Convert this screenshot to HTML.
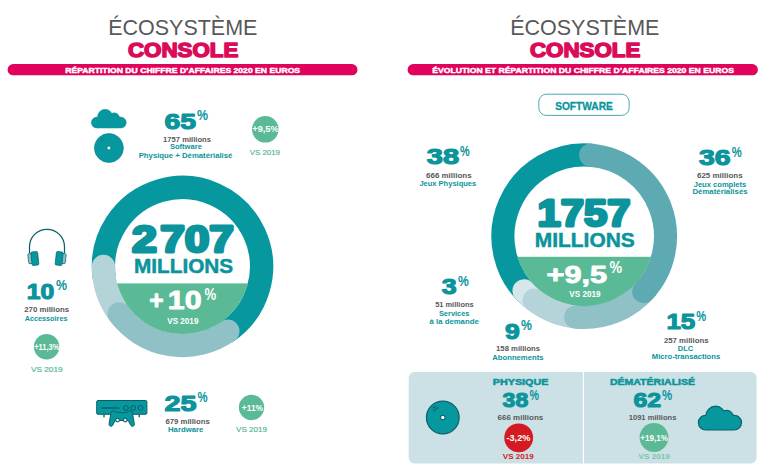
<!DOCTYPE html>
<html lang="fr"><head><meta charset="utf-8"><title>Écosystème console</title>
<style>
html,body{margin:0;padding:0;background:#fff}
body{width:768px;height:475px;overflow:hidden}
svg{display:block;font-family:"Liberation Sans",sans-serif}
</style></head><body>
<svg width="768" height="475" viewBox="0 0 768 475">
<rect width="768" height="475" fill="#fff"/>
<text x="108.2" y="34.7" font-size="22.9" font-weight="normal" fill="#58585a" textLength="149.2" lengthAdjust="spacingAndGlyphs">ÉCOSYSTÈME</text>
<text x="127.9" y="56.8" font-size="20.2" font-weight="bold" fill="#db0b5a" textLength="110.4" lengthAdjust="spacingAndGlyphs" stroke="#db0b5a" stroke-width="1.5" stroke-linejoin="round">CONSOLE</text>
<rect x="7.6" y="64.1" width="349.9" height="11.2" rx="5.6" fill="#e0035b"/>
<text x="65.2" y="73.0" font-size="8.0" font-weight="bold" fill="#fff" textLength="234.9" lengthAdjust="spacingAndGlyphs" stroke="#fff" stroke-width="0.45" stroke-linejoin="round">RÉPARTITION DU CHIFFRE D’AFFAIRES 2020 EN EUROS</text>
<g transform="translate(91.35 109.35) scale(0.7878)"><g fill="#07979f" stroke="#07979f" stroke-width="0.635"><rect x="0" y="9.8" width="44.3" height="13.9" rx="6.95"/><circle cx="17.5" cy="9.6" r="9.6"/><circle cx="29.2" cy="10.9" r="6.5"/></g></g>
<circle cx="108.9" cy="148" r="14.50" fill="#07979f" stroke="#0e8189" stroke-width="0.6"/>
<circle cx="108.9" cy="148" r="2.00" fill="#f4fbfc" stroke="#0e8189" stroke-width="0.89"/>
<path d="M100.23 139.59L102.68 138.45M100.76 142.23L104.79 139.15" fill="none" stroke="#0e8189" stroke-width="0.92" stroke-linecap="round"/>
<text x="164.4" y="129.3" font-size="21.86" font-weight="bold" fill="#0b949c" textLength="31.5" lengthAdjust="spacingAndGlyphs" stroke="#0b949c" stroke-width="1.15" stroke-linejoin="round">65</text>
<text x="197.0" y="120.0" font-size="14.6" font-weight="bold" fill="#0b949c" textLength="11.0" lengthAdjust="spacingAndGlyphs">%</text>
<text x="163.1" y="141.7" font-size="7.3" font-weight="bold" fill="#58585a" textLength="47.9" lengthAdjust="spacingAndGlyphs">1757 millions</text>
<text x="169.9" y="149.4" font-size="7.3" font-weight="bold" fill="#0b949c" textLength="32.0" lengthAdjust="spacingAndGlyphs">Software</text>
<text x="138.7" y="157.6" font-size="7.3" font-weight="bold" fill="#0b949c" textLength="93.7" lengthAdjust="spacingAndGlyphs">Physique + Dématérialisé</text>
<circle cx="265.3" cy="129.3" r="13.3" fill="#5bba96"/>
<text x="252.3" y="132.3" font-size="8.4" font-weight="bold" fill="#fff" textLength="26.3" lengthAdjust="spacingAndGlyphs">+9,5%</text>
<text x="249.7" y="154.7" font-size="7.3" font-weight="normal" fill="#5bba96" textLength="30.3" lengthAdjust="spacingAndGlyphs" stroke="#5bba96" stroke-width="0.2" stroke-linejoin="round">VS 2019</text>
<path d="M104.22 277.50A79.05 79.05 0 1 1 225.55 332.80" fill="none" stroke="#07979f" stroke-width="23.3" stroke-linecap="butt"/>
<path d="M121.07 316.25A79.05 79.05 0 0 1 103.45 266.50" fill="none" stroke="#b4d4d9" stroke-width="23.3" stroke-linecap="round"/>
<path d="M227.84 331.25A79.05 79.05 0 0 1 119.20 313.85" fill="none" stroke="#8fc1c7" stroke-width="23.3" stroke-linecap="round"/>
<clipPath id="c1"><circle cx="182.5" cy="266.5" r="67.6"/></clipPath><rect x="100" y="283.4" width="170" height="60" fill="#5bba96" clip-path="url(#c1)"/>
<text x="132.0" y="252.1" font-size="36.2" font-weight="bold" fill="#0b949c" textLength="24.9" lengthAdjust="spacingAndGlyphs" stroke="#0b949c" stroke-width="3" stroke-linejoin="round">2</text>
<text x="160.2" y="252.1" font-size="36.2" font-weight="bold" fill="#0b949c" textLength="73.8" lengthAdjust="spacingAndGlyphs" stroke="#0b949c" stroke-width="3" stroke-linejoin="round">707</text>
<text x="134.0" y="272.8" font-size="20.3" font-weight="bold" fill="#0b949c" textLength="99.2" lengthAdjust="spacingAndGlyphs" stroke="#0b949c" stroke-width="0.5" stroke-linejoin="round">MILLIONS</text>
<text x="149.2" y="309.2" font-size="26.3" font-weight="bold" fill="#fff" textLength="14.4" lengthAdjust="spacingAndGlyphs" stroke="#fff" stroke-width="0.9" stroke-linejoin="round">+</text>
<text x="167.8" y="309.2" font-size="26.3" font-weight="bold" fill="#fff" textLength="33.8" lengthAdjust="spacingAndGlyphs" stroke="#fff" stroke-width="0.9" stroke-linejoin="round">10</text>
<text x="204.4" y="299.5" font-size="16.3" font-weight="bold" fill="#fff" textLength="11.7" lengthAdjust="spacingAndGlyphs">%</text>
<text x="167.3" y="323.8" font-size="8.2" font-weight="bold" fill="#fff" textLength="31.1" lengthAdjust="spacingAndGlyphs">VS 2019</text>
<path d="M29.5 253V246.8A17.5 17.5 0 0 1 64.5 246.8V253" fill="none" stroke="#0b6068" stroke-width="1.25"/>
<rect x="28.2" y="253.6" width="5" height="10" rx="1" fill="#8fc1c7" stroke="#0b6068" stroke-width="0.7" transform="rotate(-6 30 258)"/><rect x="31.4" y="251.8" width="6.8" height="13.6" rx="1.2" fill="#07979f" stroke="#0b6068" stroke-width="0.7" transform="rotate(-6 34 258)"/>
<rect x="60.8" y="253.6" width="5" height="10" rx="1" fill="#8fc1c7" stroke="#0b6068" stroke-width="0.7" transform="rotate(6 64 258)"/><rect x="55.8" y="251.8" width="6.8" height="13.6" rx="1.2" fill="#07979f" stroke="#0b6068" stroke-width="0.7" transform="rotate(6 60 258)"/>
<text x="26.8" y="298.9" font-size="21.86" font-weight="bold" fill="#0b949c" textLength="27.4" lengthAdjust="spacingAndGlyphs" stroke="#0b949c" stroke-width="1.15" stroke-linejoin="round">10</text>
<text x="56.0" y="290.3" font-size="14.6" font-weight="bold" fill="#0b949c" textLength="11.0" lengthAdjust="spacingAndGlyphs">%</text>
<text x="24.2" y="312.1" font-size="7.3" font-weight="bold" fill="#58585a" textLength="45.0" lengthAdjust="spacingAndGlyphs">270 millions</text>
<text x="24.7" y="320.6" font-size="7.3" font-weight="bold" fill="#0b949c" textLength="42.8" lengthAdjust="spacingAndGlyphs">Accessoires</text>
<circle cx="46.6" cy="346.7" r="12.75" fill="#5bba96"/>
<text x="34.2" y="349.7" font-size="8.4" font-weight="bold" fill="#fff" textLength="25.2" lengthAdjust="spacingAndGlyphs">+11,3%</text>
<text x="31.0" y="371.6" font-size="7.3" font-weight="normal" fill="#5bba96" textLength="31.6" lengthAdjust="spacingAndGlyphs" stroke="#5bba96" stroke-width="0.2" stroke-linejoin="round">VS 2019</text>
<rect x="96.7" y="400.5" width="50.2" height="13.8" rx="1.2" fill="#07979f" stroke="#0b6068" stroke-width="1"/>
<path d="M101.3 408H119.3M104 414.6V417.3M139.2 414.6V417.3" stroke="#0b6068" stroke-width="1.4" fill="none"/>
<circle cx="125.9" cy="408" r="2.4" fill="#07979f" stroke="#0b6068" stroke-width="1"/>
<circle cx="133.2" cy="408" r="2.4" fill="#07979f" stroke="#0b6068" stroke-width="1"/>
<circle cx="140.6" cy="408" r="2.4" fill="#07979f" stroke="#0b6068" stroke-width="1"/>
<path d="M113.2 410.9C111.8 410.9 111.2 411.8 110.9 413.2L109.1 423.8C108.7 426.3 111.2 427.2 112.6 425.4L115.2 420.5H128.2L130.8 425.4C132.2 427.2 134.7 426.3 134.3 423.8L132.5 413.2C132.2 411.8 131.6 410.9 130.2 410.9C128.6 410.9 127.6 412.6 125.6 412.6H117.8C115.8 412.6 114.8 410.9 113.2 410.9Z" fill="#07979f" stroke="#0b6068" stroke-width="1" stroke-linejoin="round"/>
<circle cx="117.6" cy="420.1" r="1.8" fill="#fff" stroke="#0b6068" stroke-width="1.1"/><circle cx="125.3" cy="420.1" r="1.8" fill="#fff" stroke="#0b6068" stroke-width="1.1"/>
<text x="164.4" y="410.6" font-size="21.86" font-weight="bold" fill="#0b949c" textLength="32.0" lengthAdjust="spacingAndGlyphs" stroke="#0b949c" stroke-width="1.15" stroke-linejoin="round">25</text>
<text x="197.5" y="402.3" font-size="14.6" font-weight="bold" fill="#0b949c" textLength="10.1" lengthAdjust="spacingAndGlyphs">%</text>
<text x="165.4" y="423.9" font-size="7.3" font-weight="bold" fill="#58585a" textLength="44.4" lengthAdjust="spacingAndGlyphs">679 millions</text>
<text x="168.0" y="431.6" font-size="7.3" font-weight="bold" fill="#0b949c" textLength="35.3" lengthAdjust="spacingAndGlyphs">Hardware</text>
<circle cx="251.5" cy="407.5" r="12.65" fill="#5bba96"/>
<text x="241.8" y="410.5" font-size="8.4" font-weight="bold" fill="#fff" textLength="21.3" lengthAdjust="spacingAndGlyphs">+11%</text>
<text x="236.0" y="431.9" font-size="7.3" font-weight="normal" fill="#5bba96" textLength="31.0" lengthAdjust="spacingAndGlyphs" stroke="#5bba96" stroke-width="0.2" stroke-linejoin="round">VS 2019</text>
<text x="510.2" y="34.7" font-size="22.9" font-weight="normal" fill="#58585a" textLength="149.2" lengthAdjust="spacingAndGlyphs">ÉCOSYSTÈME</text>
<text x="529.9" y="56.8" font-size="20.2" font-weight="bold" fill="#db0b5a" textLength="110.4" lengthAdjust="spacingAndGlyphs" stroke="#db0b5a" stroke-width="1.5" stroke-linejoin="round">CONSOLE</text>
<rect x="407.6" y="64.1" width="350.3" height="11.2" rx="5.6" fill="#e0035b"/>
<text x="432.3" y="73.0" font-size="8.0" font-weight="bold" fill="#fff" textLength="301.6" lengthAdjust="spacingAndGlyphs" stroke="#fff" stroke-width="0.45" stroke-linejoin="round">ÉVOLUTION ET RÉPARTITION DU CHIFFRE D’AFFAIRES 2020 EN EUROS</text>
<rect x="538.8" y="94.2" width="90.3" height="21.2" rx="7.5" fill="#fff" stroke="#4aa9b0" stroke-width="1"/>
<text x="555.2" y="109.5" font-size="10.8" font-weight="bold" fill="#0b949c" textLength="57.6" lengthAdjust="spacingAndGlyphs" stroke="#0b949c" stroke-width="0.3" stroke-linejoin="round">SOFTWARE</text>
<text x="426.8" y="164.3" font-size="21.86" font-weight="bold" fill="#0b949c" textLength="32.3" lengthAdjust="spacingAndGlyphs" stroke="#0b949c" stroke-width="1.15" stroke-linejoin="round">38</text>
<text x="459.9" y="156.2" font-size="14.6" font-weight="bold" fill="#0b949c" textLength="9.7" lengthAdjust="spacingAndGlyphs">%</text>
<text x="426.1" y="178.0" font-size="7.3" font-weight="bold" fill="#58585a" textLength="45.5" lengthAdjust="spacingAndGlyphs">666 millions</text>
<text x="419.4" y="186.1" font-size="7.3" font-weight="bold" fill="#0b949c" textLength="56.8" lengthAdjust="spacingAndGlyphs">Jeux Physiques</text>
<text x="698.9" y="165.1" font-size="21.86" font-weight="bold" fill="#0b949c" textLength="31.6" lengthAdjust="spacingAndGlyphs" stroke="#0b949c" stroke-width="1.15" stroke-linejoin="round">36</text>
<text x="731.8" y="157.3" font-size="14.6" font-weight="bold" fill="#0b949c" textLength="10.0" lengthAdjust="spacingAndGlyphs">%</text>
<text x="697.0" y="178.0" font-size="7.3" font-weight="bold" fill="#58585a" textLength="45.6" lengthAdjust="spacingAndGlyphs">625 millions</text>
<text x="693.7" y="186.5" font-size="7.3" font-weight="bold" fill="#0b949c" textLength="52.6" lengthAdjust="spacingAndGlyphs">Jeux complets</text>
<text x="692.4" y="194.0" font-size="7.3" font-weight="bold" fill="#0b949c" textLength="55.2" lengthAdjust="spacingAndGlyphs">Dématérialisés</text>
<path d="M531.94 298.48A81.3 81.3 0 0 1 594.11 155.51" fill="none" stroke="#07979f" stroke-width="23.1" stroke-linecap="butt"/>
<path d="M537.57 302.80A81.3 81.3 0 0 1 523.97 290.81" fill="none" stroke="#d6e6e9" stroke-width="23.1" stroke-linecap="round"/>
<path d="M579.95 317.39A81.3 81.3 0 0 1 534.15 300.27" fill="none" stroke="#b4d4d9" stroke-width="23.1" stroke-linecap="round"/>
<path d="M646.48 288.46A81.3 81.3 0 0 1 575.70 317.05" fill="none" stroke="#8fc1c7" stroke-width="23.1" stroke-linecap="round"/>
<path d="M590.58 155.15A81.3 81.3 0 0 1 643.66 291.65" fill="none" stroke="#5eaab3" stroke-width="23.1" stroke-linecap="round"/>
<clipPath id="c2"><circle cx="584.2" cy="236.2" r="69.95"/></clipPath><rect x="500" y="256.8" width="170" height="60" fill="#5bba96" clip-path="url(#c2)"/>
<text x="537.6" y="226.1" font-size="37" font-weight="bold" fill="#0b949c" textLength="92.8" lengthAdjust="spacingAndGlyphs" stroke="#0b949c" stroke-width="3" stroke-linejoin="round">1757</text>
<text x="534.8" y="247.3" font-size="20.3" font-weight="bold" fill="#0b949c" textLength="100.0" lengthAdjust="spacingAndGlyphs" stroke="#0b949c" stroke-width="0.5" stroke-linejoin="round">MILLIONS</text>
<text x="546.6" y="283.4" font-size="24.6" font-weight="bold" fill="#fff" textLength="60.6" lengthAdjust="spacingAndGlyphs" stroke="#fff" stroke-width="0.9" stroke-linejoin="round">+9,5</text>
<text x="609.6" y="273.4" font-size="16.3" font-weight="bold" fill="#fff" textLength="12.6" lengthAdjust="spacingAndGlyphs">%</text>
<text x="569.2" y="296.8" font-size="8.2" font-weight="bold" fill="#fff" textLength="31.4" lengthAdjust="spacingAndGlyphs">VS 2019</text>
<text x="441.8" y="293.7" font-size="21.86" font-weight="bold" fill="#0b949c" textLength="14.9" lengthAdjust="spacingAndGlyphs" stroke="#0b949c" stroke-width="1.15" stroke-linejoin="round">3</text>
<text x="457.9" y="286.2" font-size="14.6" font-weight="bold" fill="#0b949c" textLength="10.8" lengthAdjust="spacingAndGlyphs">%</text>
<text x="435.2" y="307.0" font-size="7.3" font-weight="bold" fill="#58585a" textLength="38.4" lengthAdjust="spacingAndGlyphs">51 millions</text>
<text x="438.9" y="316.1" font-size="7.3" font-weight="bold" fill="#0b949c" textLength="30.6" lengthAdjust="spacingAndGlyphs">Services</text>
<text x="429.6" y="324.1" font-size="7.3" font-weight="bold" fill="#0b949c" textLength="49.1" lengthAdjust="spacingAndGlyphs">à la demande</text>
<text x="505.1" y="338.7" font-size="21.86" font-weight="bold" fill="#0b949c" textLength="14.8" lengthAdjust="spacingAndGlyphs" stroke="#0b949c" stroke-width="1.15" stroke-linejoin="round">9</text>
<text x="521.0" y="330.2" font-size="14.6" font-weight="bold" fill="#0b949c" textLength="10.9" lengthAdjust="spacingAndGlyphs">%</text>
<text x="496.1" y="351.4" font-size="7.3" font-weight="bold" fill="#58585a" textLength="44.0" lengthAdjust="spacingAndGlyphs">158 millions</text>
<text x="492.2" y="359.5" font-size="7.3" font-weight="bold" fill="#0b949c" textLength="51.4" lengthAdjust="spacingAndGlyphs">Abonnements</text>
<text x="666.4" y="329.3" font-size="21.86" font-weight="bold" fill="#0b949c" textLength="28.9" lengthAdjust="spacingAndGlyphs" stroke="#0b949c" stroke-width="1.15" stroke-linejoin="round">15</text>
<text x="696.3" y="321.3" font-size="14.6" font-weight="bold" fill="#0b949c" textLength="9.9" lengthAdjust="spacingAndGlyphs">%</text>
<text x="663.9" y="342.8" font-size="7.3" font-weight="bold" fill="#58585a" textLength="44.7" lengthAdjust="spacingAndGlyphs">257 millions</text>
<text x="677.8" y="350.9" font-size="7.3" font-weight="bold" fill="#0b949c" textLength="15.4" lengthAdjust="spacingAndGlyphs">DLC</text>
<text x="651.8" y="359.3" font-size="7.3" font-weight="bold" fill="#0b949c" textLength="68.4" lengthAdjust="spacingAndGlyphs">Micro-transactions</text>
<rect x="408.7" y="371.9" width="347.9" height="91.5" rx="6" fill="#cbe1e5"/><rect x="582.8" y="371.9" width="1.2" height="91.5" fill="#fff"/>
<circle cx="442.8" cy="417.5" r="16.35" fill="#07979f" stroke="#0b6068" stroke-width="1.2"/>
<circle cx="442.8" cy="417.5" r="2.29" fill="#f4fbfc" stroke="#0b6068" stroke-width="1.02"/>
<path d="M432.87 407.87L435.68 406.57M433.48 410.89L438.09 407.36" fill="none" stroke="#0b6068" stroke-width="1.05" stroke-linecap="round"/>
<text x="492.8" y="384.5" font-size="9.5" font-weight="bold" fill="#0b949c" textLength="55.6" lengthAdjust="spacingAndGlyphs" stroke="#0b949c" stroke-width="0.5" stroke-linejoin="round">PHYSIQUE</text>
<text x="502.6" y="406.8" font-size="20.74" font-weight="bold" fill="#0b949c" textLength="25.6" lengthAdjust="spacingAndGlyphs" stroke="#0b949c" stroke-width="1.15" stroke-linejoin="round">38</text>
<text x="529.4" y="400.1" font-size="14.6" font-weight="bold" fill="#0b949c" textLength="9.5" lengthAdjust="spacingAndGlyphs">%</text>
<text x="497.6" y="420.0" font-size="7.8" font-weight="bold" fill="#58585a" textLength="45.6" lengthAdjust="spacingAndGlyphs">666 millions</text>
<circle cx="518.7" cy="437.8" r="14.4" fill="#d51b21"/>
<text x="506.5" y="440.8" font-size="8.4" font-weight="bold" fill="#fff" textLength="23.8" lengthAdjust="spacingAndGlyphs">-3,2%</text>
<text x="502.8" y="458.7" font-size="7.3" font-weight="bold" fill="#d51b21" textLength="31.0" lengthAdjust="spacingAndGlyphs">VS 2019</text>
<text x="609.9" y="384.5" font-size="9.5" font-weight="bold" fill="#0b949c" textLength="85.2" lengthAdjust="spacingAndGlyphs" stroke="#0b949c" stroke-width="0.5" stroke-linejoin="round">DÉMATÉRIALISÉ</text>
<text x="633.4" y="407.0" font-size="20.74" font-weight="bold" fill="#0b949c" textLength="27.6" lengthAdjust="spacingAndGlyphs" stroke="#0b949c" stroke-width="1.15" stroke-linejoin="round">62</text>
<text x="662.0" y="400.1" font-size="14.6" font-weight="bold" fill="#0b949c" textLength="10.2" lengthAdjust="spacingAndGlyphs">%</text>
<text x="628.7" y="420.0" font-size="7.8" font-weight="bold" fill="#58585a" textLength="47.7" lengthAdjust="spacingAndGlyphs">1091 millions</text>
<circle cx="654" cy="437.5" r="14.4" fill="#5bba96"/>
<text x="640.3" y="440.5" font-size="8.4" font-weight="bold" fill="#fff" textLength="27.5" lengthAdjust="spacingAndGlyphs">+19,1%</text>
<text x="638.5" y="458.7" font-size="7.3" font-weight="bold" fill="#7cc4b0" textLength="31.4" lengthAdjust="spacingAndGlyphs">VS 2019</text>
<g transform="translate(699.0999999999999 406.90000000000003) scale(0.9413)"><g fill="#0b6068" stroke="#0b6068" stroke-width="2.762"><rect x="0" y="9.8" width="44.3" height="13.9" rx="6.95"/><circle cx="17.5" cy="9.6" r="9.6"/><circle cx="29.2" cy="10.9" r="6.5"/></g><g fill="#07979f" stroke="#07979f" stroke-width="0.531"><rect x="0" y="9.8" width="44.3" height="13.9" rx="6.95"/><circle cx="17.5" cy="9.6" r="9.6"/><circle cx="29.2" cy="10.9" r="6.5"/></g></g>
</svg>
</body></html>
